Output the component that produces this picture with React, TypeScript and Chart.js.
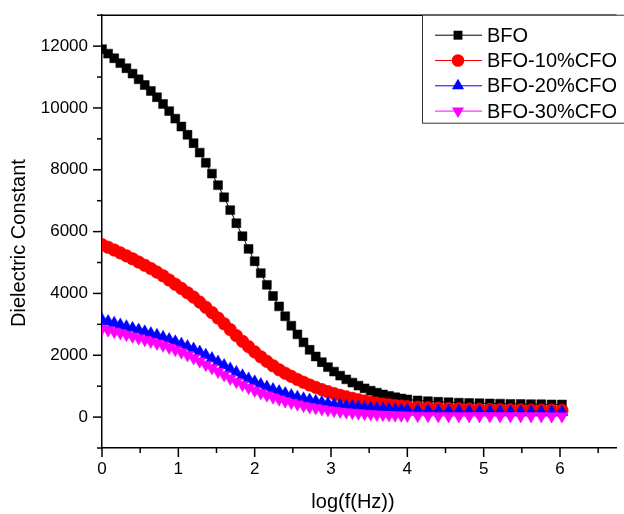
import React, { useEffect, useRef } from 'react';
import { Chart, registerables } from 'chart.js';

Chart.register(...registerables);

const xValues = [
  0.0, 0.08, 0.16, 0.24, 0.32, 0.4, 0.48, 0.56, 0.64, 0.72,
  0.8, 0.88, 0.96, 1.04, 1.12, 1.2, 1.28, 1.36, 1.44, 1.52,
  1.6, 1.68, 1.76, 1.84, 1.92, 2.0, 2.08, 2.16, 2.24, 2.32,
  2.4, 2.48, 2.56, 2.64, 2.72, 2.8, 2.88, 2.96, 3.04, 3.12,
  3.2, 3.28, 3.36, 3.44, 3.52, 3.6, 3.68, 3.76, 3.84, 3.92,
  4.0, 4.135, 4.27, 4.405, 4.54, 4.675, 4.81, 4.945, 5.08, 5.215,
  5.35, 5.485, 5.62, 5.755, 5.89, 6.025,
];

const bfo = [
  11900, 11756, 11606, 11450, 11286, 11110, 10926, 10742, 10550, 10346,
  10130, 9898, 9654, 9398, 9132, 8860, 8556, 8228, 7876, 7502,
  7110, 6694, 6272, 5852, 5440, 5040, 4656, 4278, 3918, 3580,
  3260, 2956, 2676, 2416, 2176, 1960, 1776, 1616, 1472, 1340,
  1220, 1116, 1018, 930, 854, 790, 734, 684, 640, 602,
  570, 538, 514, 494, 481, 467, 457, 448, 441, 434,
  427, 421, 417, 414, 410, 407,
];

const bfo10 = [
  5580, 5492, 5404, 5312, 5216, 5120, 5016, 4912, 4804, 4690,
  4570, 4434, 4298, 4162, 4024, 3880, 3720, 3554, 3382, 3204,
  3020, 2828, 2636, 2452, 2278, 2110, 1950, 1802, 1662, 1532,
  1420, 1316, 1218, 1126, 1040, 960, 888, 822, 762, 707,
  655, 607, 562, 520, 482, 450, 422, 397, 375, 356,
  340, 320, 304, 290, 279, 270, 261, 255, 249, 243,
  239, 235, 230, 227, 224, 222,
];

const bfo20 = [
  3150, 3094, 3038, 2982, 2926, 2870, 2814, 2758, 2702, 2644,
  2580, 2508, 2436, 2360, 2280, 2200, 2104, 2002, 1894, 1782,
  1670, 1558, 1446, 1338, 1236, 1140, 1052, 970, 894, 824,
  760, 696, 641, 593, 550, 510, 474, 441, 411, 384,
  360, 338, 319, 302, 286, 272, 260, 249, 240, 231,
  224, 214, 205, 198, 192, 188, 184, 180, 177, 175,
  172, 170, 169, 168, 166, 165,
];

const bfo30 = [
  2860, 2812, 2764, 2716, 2666, 2610, 2554, 2498, 2442, 2384,
  2320, 2248, 2176, 2096, 2006, 1910, 1806, 1696, 1584, 1472,
  1360, 1248, 1142, 1042, 948, 860, 780, 706, 638, 575,
  515, 463, 414, 368, 326, 290, 258, 229, 203, 180,
  160, 142, 126, 111, 97, 86, 76, 68, 61, 55,
  50, 45, 42, 39, 38, 37, 35, 35, 34, 34,
  33, 33, 32, 32, 31, 31,
];

const seriesNames = ['BFO', 'BFO-10%CFO', 'BFO-20%CFO', 'BFO-30%CFO'];
const seriesValues = [bfo, bfo10, bfo20, bfo30];
const seriesColors = ['#000000', '#ff0000', '#0000ff', '#ff00ff'];
const seriesMarkers = ['rect', 'circle', 'triangle', 'triangle'];
const seriesRotations = [0, 0, 0, 180];
const seriesRadius = [6.3, 6.3, 7, 7];

const yMajorTicks = [0, 2000, 4000, 6000, 8000, 10000, 12000];
const xMajorTicks = [0, 1, 2, 3, 4, 5, 6];

const FONT = '"Liberation Sans", Arial, Helvetica, sans-serif';

function drawMarker(ctx: CanvasRenderingContext2D, kind: string, rot: number, x: number, y: number, r: number) {
  ctx.beginPath();
  if (kind === 'rect') {
    const s = Math.SQRT1_2 * r;
    ctx.rect(x - s, y - s, 2 * s, 2 * s);
  } else if (kind === 'circle') {
    ctx.arc(x, y, r, 0, Math.PI * 2);
  } else {
    let rad = (rot * Math.PI) / 180;
    ctx.moveTo(x + Math.sin(rad) * r, y - Math.cos(rad) * r);
    rad += (2 * Math.PI) / 3;
    ctx.lineTo(x + Math.sin(rad) * r, y - Math.cos(rad) * r);
    rad += (2 * Math.PI) / 3;
    ctx.lineTo(x + Math.sin(rad) * r, y - Math.cos(rad) * r);
    ctx.closePath();
  }
  ctx.fill();
}

const decorPlugin = {
  id: 'decor',
  afterDraw(chart: any) {
    const { ctx, chartArea: ca, scales } = chart;
    const xs = scales.x;
    const ys = scales.y;
    ctx.save();
    ctx.strokeStyle = '#000';
    ctx.lineWidth = 1.5;
    // top frame line
    ctx.beginPath();
    ctx.moveTo(ca.left, ca.top);
    ctx.lineTo(ca.right, ca.top);
    ctx.stroke();
    // y ticks (major + minor)
    for (let v = ys.min; v <= ys.max; v += 1000) {
      const py = ys.getPixelForValue(v);
      const len = yMajorTicks.includes(v) ? 9 : 5;
      ctx.beginPath();
      ctx.moveTo(ca.left - len, py);
      ctx.lineTo(ca.left, py);
      ctx.stroke();
    }
    // x ticks
    for (let v = 0; v <= xs.max; v += 0.5) {
      const px = xs.getPixelForValue(v);
      const len = xMajorTicks.includes(v) ? 9 : 5;
      ctx.beginPath();
      ctx.moveTo(px, ca.bottom);
      ctx.lineTo(px, ca.bottom + len);
      ctx.stroke();
    }
    // axis titles
    ctx.fillStyle = '#000';
    ctx.font = `20px ${FONT}`;
    ctx.textAlign = 'center';
    ctx.textBaseline = 'middle';
    ctx.fillText('log(f(Hz))', 353, 502);
    ctx.save();
    ctx.translate(19, 243);
    ctx.rotate(-Math.PI / 2);
    ctx.fillText('Dielectric Constant', 0, 0);
    ctx.restore();
    // legend
    const bx = 422.5;
    const by = ca.top;
    ctx.fillStyle = '#fff';
    ctx.fillRect(bx, by, ca.right - bx + 10, 108);
    ctx.strokeStyle = '#333';
    ctx.lineWidth = 1;
    ctx.strokeRect(bx, by, ca.right - bx + 10, 108);
    ctx.font = `20px ${FONT}`;
    ctx.textAlign = 'left';
    ctx.textBaseline = 'middle';
    seriesNames.forEach((name, i) => {
      const ry = by + 20 + i * 25.3;
      ctx.strokeStyle = seriesColors[i];
      ctx.lineWidth = 1;
      ctx.beginPath();
      ctx.moveTo(435, ry);
      ctx.lineTo(482, ry);
      ctx.stroke();
      ctx.fillStyle = seriesColors[i];
      drawMarker(ctx, seriesMarkers[i], seriesRotations[i], 458, ry, seriesRadius[i]);
      ctx.fillStyle = '#000';
      ctx.fillText(name, 487, ry + 1);
    });
    ctx.restore();
  },
};

export default function App() {
  const ref = useRef<HTMLCanvasElement | null>(null);

  useEffect(() => {
    if (!ref.current) return;
    const datasets = seriesNames.map((name, i) => ({
      label: name,
      data: xValues.map((x, j) => ({ x, y: seriesValues[i][j] })),
      borderColor: seriesColors[i],
      backgroundColor: seriesColors[i],
      pointBackgroundColor: seriesColors[i],
      pointBorderColor: seriesColors[i],
      pointBorderWidth: 0.5,
      borderWidth: 1,
      pointStyle: seriesMarkers[i] as any,
      pointRotation: seriesRotations[i],
      pointRadius: seriesRadius[i],
      tension: 0,
      order: seriesNames.length - i,
    }));

    const chart = new Chart(ref.current, {
      type: 'line',
      data: { datasets },
      plugins: [decorPlugin],
      options: {
        animation: false,
        responsive: false,
        devicePixelRatio: 1,
        layout: { padding: { left: 0, top: 12, right: 0, bottom: 0 } },
        plugins: {
          legend: { display: false },
          tooltip: { enabled: false },
        },
        scales: {
          x: {
            type: 'linear',
            min: 0,
            max: 6.74,
            afterFit: (s: any) => { s.height = 66; },
            border: { display: true, color: '#000', width: 1.5 },
            grid: { drawOnChartArea: false, drawTicks: true, tickLength: 9, color: 'rgba(0,0,0,0)' },
            ticks: {
              stepSize: 0.5,
              autoSkip: false,
              includeBounds: false,
              maxRotation: 0,
              padding: 2,
              color: '#000',
              font: { family: FONT, size: 17 },
              callback: (v: any) => (xMajorTicks.includes(Number(v)) ? String(v) : ''),
            },
          },
          y: {
            type: 'linear',
            min: -1000,
            max: 13000,
            afterFit: (s: any) => { s.width = 102; },
            border: { display: true, color: '#000', width: 1.5 },
            grid: { drawOnChartArea: false, drawTicks: true, tickLength: 9, color: 'rgba(0,0,0,0)' },
            ticks: {
              stepSize: 1000,
              autoSkip: false,
              padding: 5,
              color: '#000',
              font: { family: FONT, size: 17 },
              callback: (v: any) => (yMajorTicks.includes(Number(v)) ? String(v) : ''),
            },
          },
        },
      },
    });
    return () => chart.destroy();
  }, []);

  return (
    <div style={{ position: 'fixed', left: 0, top: 0, width: 624, height: 514, background: '#fff' }}>
      <canvas ref={ref} width={624} height={514} style={{ display: 'block' }} />
    </div>
  );
}
